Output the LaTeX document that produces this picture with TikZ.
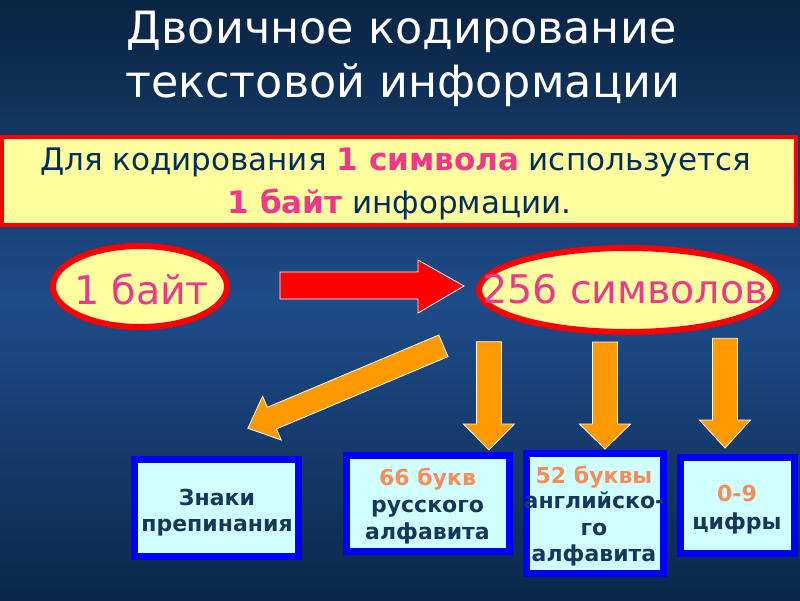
\documentclass[tikz,border=0pt]{standalone}
\usepackage{fontspec}
\setmainfont{DejaVu Sans}
\usetikzlibrary{shapes.geometric}
\definecolor{bgtop}{RGB}{10,36,66}
\definecolor{bgmid}{RGB}{30,76,138}
\definecolor{bgbot}{RGB}{12,40,76}
\definecolor{navytext}{RGB}{0,45,90}
\definecolor{boxtext}{RGB}{20,55,90}
\definecolor{pinktext}{RGB}{240,55,140}
\definecolor{yellowfill}{RGB}{255,255,160}
\definecolor{cyanfill}{RGB}{208,255,255}
\definecolor{salmon}{RGB}{245,140,90}
\definecolor{arroworange}{RGB}{255,153,0}
\tikzset{
  titletext/.style={text=white, font=\fontsize{44.5}{50}\selectfont, inner sep=0pt},
  infobox/.style={draw=red, line width=4pt, fill=yellowfill, inner sep=0pt},
  infotext/.style={text=navytext, font=\fontsize{31}{34}\selectfont, inner sep=0pt},
  ovalbox/.style={ellipse, draw=red, line width=6pt, fill=yellowfill, inner sep=0pt},
  ovaltext/.style={text=pinktext, font=\fontsize{39.5}{44}\selectfont, inner sep=0pt},
  catbox/.style={draw=blue, line width=7pt, fill=cyanfill, inner sep=0pt},
  cattext/.style={text=boxtext, font=\bfseries\fontsize{22}{24}\selectfont, inner sep=0pt},
  catnum/.style={text=salmon, font=\bfseries\fontsize{22}{24}\selectfont, inner sep=0pt},
  blockarrow/.style={fill=arroworange, draw=white, line width=0.8pt, line join=miter},
}
\newcommand{\downblock}[4]{%
  \draw[blockarrow] (#1-12.5,#2) -- (#1+12.5,#2) -- (#1+12.5,#3) -- (#1+25.5,#3)
    -- (#1,#4) -- (#1-25.5,#3) -- (#1-12.5,#3) -- cycle;}
\begin{document}
\begin{tikzpicture}[x=1pt,y=-1pt]
\useasboundingbox (0,0) rectangle (800,600);
\shade[top color=bgtop, bottom color=bgbot, middle color=bgmid] (0,0) rectangle (800,600);

% title
\node[titletext, anchor=base] (title1) at (401.7,43) {Двоичное кодирование};
\node[titletext, anchor=base] (title2) at (402.7,97) {текстовой информации};

% info box
\node[infobox, minimum width=794, minimum height=88] (info) at (399,181) {};
\node[infotext, anchor=base] (info1) at (395.5,170) {Для кодирования \textcolor{pinktext}{\bfseries 1 символа} используется};
\node[infotext, anchor=base] (info2) at (399.5,213) {\textcolor{pinktext}{\bfseries 1 байт} информации.};

% ovals
\node[ovalbox, minimum width=174, minimum height=81] (byte) at (140,286.5) {};
\node[ovaltext, anchor=base] (bytetext) at (141.5,304) {1 байт};
\node[ovalbox, minimum width=297, minimum height=84] (sym) at (627.5,290) {};
\node[ovaltext, anchor=base] (symtext) at (625,303) {256 символов};

% red arrow
\draw[fill=red, draw=white, line width=0.8pt] (280,272) -- (418,272) -- (418,260) -- (464,286)
  -- (418,313) -- (418,299) -- (280,299) -- cycle;

% diagonal orange arrow
\draw[blockarrow] (247.9,428.3) -- (281.2,440.0) -- (276.5,428.9) -- (448.0,356.6)
  -- (438.8,335.0) -- (267.3,407.3) -- (262.6,396.2) -- cycle;

% vertical orange arrows
\downblock{488.9}{341.7}{424}{450}
\downblock{605}{342}{424}{449}
\downblock{725}{338.3}{420}{448}

% category boxes
\node[catbox, minimum width=164, minimum height=97] (punct) at (216.2,508) {};
\node[cattext, anchor=base] at (217,505) {Знаки};
\node[cattext, anchor=base] at (217,531.7) {препинания};

\node[catbox, minimum width=163.6, minimum height=96.3] (rus) at (428,503.4) {};
\node[catnum, anchor=base] at (427.5,485) {66 букв};
\node[cattext, anchor=base] at (427.5,512.7) {русского};
\node[cattext, anchor=base] at (427.5,539.3) {алфавита};

\node[catbox, minimum width=137, minimum height=119.7] (eng) at (594.7,513.4) {};
\node[catnum, anchor=base] at (594,483) {52 буквы};
\node[cattext, anchor=base] at (594,508) {английско-};
\node[cattext, anchor=base] at (594,535) {го};
\node[cattext, anchor=base] at (594,561.7) {алфавита};

\node[catbox, minimum width=114.3, minimum height=96] (dig) at (737.4,505.5) {};
\node[catnum, anchor=base] at (737,501.7) {0-9};
\node[cattext, anchor=base] at (737,529) {цифры};
\end{tikzpicture}
\end{document}
